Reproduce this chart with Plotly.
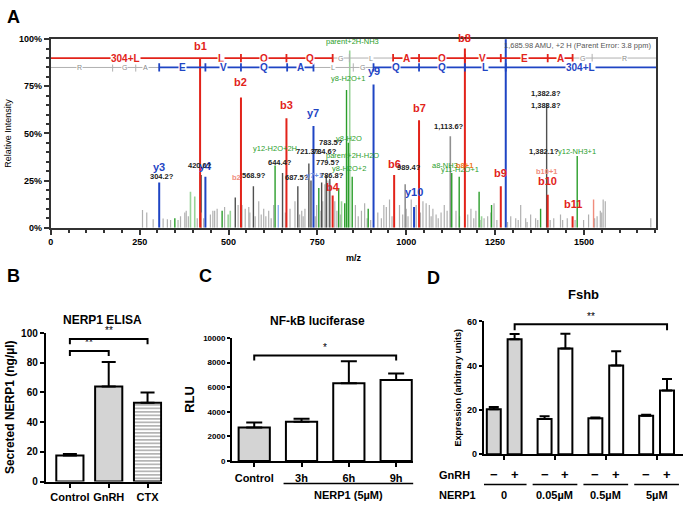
import plotly.graph_objects as go

W, H = 683, 509
def PX(p): return p / W
def PY(p): return 1 - p / H

FONT = "Arial, Liberation Sans, sans-serif"
RED = "#e2231a"; BLUE = "#1f45c4"; GREEN = "#2b9e2b"; LGREEN = "#98d398"
GRAY = "#b0b0b0"; DGRAY = "#505050"; TGRAY = "#8a8a8a"; LRED = "#f08c7c"; ORANGE = "#f07a1a"

# ---------------- Panel A data ----------------
b_mz = [420, 535, 663, 793, 966, 1036, 1165, 1266, 1398, 1468]
b_int = [90, 69, 58, 17, 28, 57, 95, 22, 17.5, 6]
b_lab = ["b1", "b2", "b3", "b4", "b6", "b7", "b8", "b9", "b10", "b11"]
b_lab_y = [92, 73, 61, 17.5, 29.5, 59.5, 96.5, 24.5, 20.5, 8.5]

y_mz = [305, 435, 739, 908, 1022, 1280]
y_int = [24, 27, 54, 76, 11, 104]
y_lab = ["y3", "y4", "y7", "y9", "y10", "y12"]
y_lab_y = [28, 28.5, 56.5, 79, 14.5, 103]

green_mz = [349, 482, 631, 754, 810, 827, 832, 837, 848, 893, 1128, 1149, 1205, 1240, 1378, 1481]
green_int = [5, 9, 33, 21, 21, 13, 73, 45, 27, 10, 29, 27, 19, 12, 10, 38]
lgreen_mz = [393, 405, 499, 505, 818, 841, 1212]
lgreen_int = [19, 16.5, 7, 9, 14, 94, 6]

dark_mz = [423, 519, 570, 652, 695, 726, 732, 762, 775, 785, 1395]
dark_int = [28, 16, 22, 29, 22, 34, 25, 24, 28, 26, 66]
mid_mz = [997, 1124]
mid_int = [23, 48.5]

noise_mz = [258, 270, 288, 316, 328, 337, 358, 365, 377, 381, 387, 412, 430, 449, 456, 461,
            468, 489, 527, 538, 547, 557, 560, 575, 585, 592, 599, 605, 613, 620, 627, 660,
            673, 687, 700, 706, 710, 715, 744, 748, 760, 765, 771, 780, 799, 805, 815, 857,
            865, 874, 883, 890, 900, 920, 930, 937, 944, 953, 960, 981, 990, 1000, 1005,
            1014, 1028, 1040, 1047, 1056, 1065, 1070, 1075, 1084, 1090, 1098, 1107, 1115,
            1140, 1150, 1173, 1182, 1190, 1196, 1210, 1219, 1229, 1238, 1247, 1255, 1285,
            1294, 1308, 1315, 1322, 1336, 1340, 1350, 1364, 1370, 1405, 1415, 1434, 1440,
            1453, 1475, 1499, 1513, 1530, 1537, 1546, 1550, 1554, 1560, 1688]
noise_int = [9.3, 8, 4.5, 4.8, 4.5, 4, 4, 6, 8, 9, 6, 5, 5, 7, 9, 9,
             10, 11, 12, 12, 10, 11, 8, 6, 14, 7, 10, 6, 9, 5, 12, 8,
             10, 14, 7, 9, 6, 10, 6, 12, 9, 14, 23, 25, 14, 9, 7, 12,
             6, 9, 13, 5, 4, 8, 5, 12, 11, 15, 6, 12, 7, 10, 6,
             15, 12, 8, 14, 13, 12, 6, 10, 7, 5, 8, 12, 9,
             9, 6, 7, 10, 5, 9, 4, 5, 6, 8, 13, 4, 3,
             6, 5, 4, 12, 5, 3, 7, 5, 4, 4, 5, 7, 4,
             5, 4, 4, 7, 5, 6, 9, 8, 15, 14, 5]
lred_mz = [1527, 423]
lred_int = [15, 8]
lblue_mz = [640]
lblue_int = [12]

# sequence tracks
red_track = [(0, 793, RED), (793, 963, GRAY), (963, 1468, RED), (1468, 1703, GRAY)]
red_ticks_col = [535, 663, 793, 963, 1036, 1165, 1266, 1398, 1468]
red_ticks_gray = [840, 1523]
red_res = [("304+L", 210, RED), ("L", 478, RED), ("Q", 599, RED), ("Q", 728, RED), ("G", 816, TGRAY),
           ("L", 900, TGRAY), ("A", 1000, RED), ("Q", 1100, RED), ("V", 1215, RED), ("E", 1332, RED),
           ("A", 1433, RED), ("G", 1495, TGRAY), ("R", 1613, TGRAY)]
blue_track = [(0, 305, GRAY), (305, 739, BLUE), (739, 908, GRAY), (908, 1703, BLUE)]
blue_ticks_col = [305, 435, 535, 665, 739, 908, 1036, 1165, 1280]
blue_ticks_gray = [174, 239, 851]
blue_res = [("R", 80, TGRAY), ("G", 207, TGRAY), ("A", 267, TGRAY), ("E", 370, BLUE), ("V", 487, BLUE),
            ("Q", 600, BLUE), ("A", 702, BLUE), ("L", 795, TGRAY), ("G", 876, TGRAY), ("Q", 972, BLUE),
            ("Q", 1100, BLUE), ("L", 1222, BLUE), ("304+L", 1490, BLUE)]

green_labels = [("parent+2H-NH3", 848, 95.5), ("y8-H2O+1", 836, 75.6), ("y8-H2O", 840, 44),
                ("parent+2H-H2O", 850, 35), ("y8-H2O+2", 838, 28), ("y12-H2O+2H", 630, 38.5),
                ("a8-NH3", 1109, 29.5), ("y11-H2O+1", 1152, 27.3), ("y12-NH3+1", 1481, 37)]
black_labels = [("304.2?", 314, 23.5), ("420.0?", 419, 29.5), ("568.9?", 573, 24), ("644.4?", 646, 31),
                ("687.5?", 692, 23), ("721.3?", 725, 36.8), ("784.6?", 772, 36.8), ("783.5?", 787, 41.5),
                ("779.5?", 781, 31), ("786.8?", 790, 24), ("989.4?", 1008, 28.7), ("1,113.6?", 1121, 50),
                ("1,382.8?", 1392, 67.5), ("1,383.8?", 1392, 61.5), ("1,382.1?", 1388, 36.8)]
misc_labels = [("b2", 522, 23, LRED), ("b10+1", 1395, 26.5, LRED), ("b8+1", 1165, 29.5, ORANGE),
               ("y7+1", 742, 24, "#6f8fe0")]

# ---------------- Panel B data ----------------
b_cats = ["Control", "GnRH", "CTX"]
b_vals = [17.5, 64, 53]
b_errs = [1, 16.5, 7]

# ---------------- Panel C data ----------------
c_cats = ["Control", "3h", "6h", "9h"]
c_vals = [2720, 3200, 6320, 6590]
c_errs = [400, 240, 1780, 530]

# ---------------- Panel D data ----------------
d_groups = ["0", "0.05\u00b5M", "0.5\u00b5M", "5\u00b5M"]
d_minus = [20.3, 15.9, 16.2, 17.4]
d_minus_err = [1.0, 1.2, 0.4, 0.4]
d_plus = [51.9, 47.8, 40.1, 28.8]
d_plus_err = [2.4, 6.6, 6.4, 5.2]


def stems(mz, inten):
    xs, ys = [], []
    for m, v in zip(mz, inten):
        xs += [m, m, None]
        ys += [0, v, None]
    return xs, ys


fig = go.Figure()

def add_stems(mz, inten, color, width, clip=True):
    xs, ys = stems(mz, inten)
    fig.add_trace(go.Scatter(x=xs, y=ys, mode="lines", line=dict(color=color, width=width),
                             hoverinfo="skip", showlegend=False, cliponaxis=clip,
                             xaxis="x", yaxis="y"))

add_stems(noise_mz, noise_int, GRAY, 1.2)
add_stems(lgreen_mz, lgreen_int, LGREEN, 1.6)
add_stems(mid_mz, mid_int, "#909090", 1.6)
add_stems(dark_mz, dark_int, DGRAY, 1.4)
add_stems(green_mz, green_int, GREEN, 1.4)
add_stems(lred_mz, lred_int, LRED, 1.4)
add_stems(lblue_mz, lblue_int, "#8fb0f0", 1.4)
add_stems(b_mz, b_int, RED, 2)
add_stems(y_mz, y_int, BLUE, 2, clip=False)

# tracks
def add_track(segs, yv, ticks_col, ticks_gray, col):
    for (a, b, c) in segs:
        fig.add_trace(go.Scatter(x=[a, b], y=[yv, yv], mode="lines",
                                 line=dict(color=c, width=1.8 if c != GRAY else 1),
                                 hoverinfo="skip", showlegend=False, xaxis="x", yaxis="y"))
    for tl, c in ((ticks_col, col), (ticks_gray, GRAY)):
        xs, ys = [], []
        for t in tl:
            xs += [t, t, None]; ys += [yv - 2.2, yv + 2.2, None]
        fig.add_trace(go.Scatter(x=xs, y=ys, mode="lines",
                                 line=dict(color=c, width=1.8 if c != GRAY else 1),
                                 hoverinfo="skip", showlegend=False, xaxis="x", yaxis="y"))

add_track(red_track, 90, red_ticks_col, red_ticks_gray, RED)
add_track(blue_track, 85, blue_ticks_col, blue_ticks_gray, BLUE)

ann = []
def A(**kw):
    kw.setdefault("xanchor", "center")
    kw.setdefault("yanchor", "middle")
    kw.setdefault("showarrow", False)
    ann.append(kw)

def res_ann(lst, yv):
    for (t, x, c) in lst:
        colored = c != TGRAY
        A(text=t, x=x, y=yv, xref="x", yref="y",
          font=dict(family=FONT, size=10 if colored else 7, color=c,
                    weight="bold" if colored else "normal"),
          bgcolor="white", borderpad=0)
res_ann(red_res, 90)
res_ann(blue_res, 85)

for t, x, yv in zip(b_lab, b_mz, b_lab_y):
    A(text=t, x=x, y=yv, xref="x", yref="y", yanchor="bottom",
      font=dict(family=FONT, size=11, color=RED, weight="bold"))
for t, x, yv in zip(y_lab, y_mz, y_lab_y):
    A(text=t, x=x, y=yv, xref="x", yref="y", yanchor="bottom",
      font=dict(family=FONT, size=11, color=BLUE, weight="bold"))
for t, x, yv in green_labels:
    A(text=t, x=x, y=yv, xref="x", yref="y", yanchor="bottom",
      font=dict(family=FONT, size=7.5, color=GREEN))
for t, x, yv in black_labels:
    A(text=t, x=x, y=yv, xref="x", yref="y", yanchor="bottom",
      font=dict(family=FONT, size=7.5, color="#222", weight="bold"))
for t, x, yv, c in misc_labels:
    A(text=t, x=x, y=yv, xref="x", yref="y", yanchor="bottom",
      font=dict(family=FONT, size=7.5, color=c, weight="bold"))
A(text="1,685.98 AMU, +2 H (Parent Error: 3.8 ppm)", x=PX(653), y=PY(40),
  xref="paper", yref="paper", xanchor="right", font=dict(family=FONT, size=7.5, color="#555"))

# ---------------- Panel B ----------------
fig.add_trace(go.Bar(x=list(range(len(b_cats))), y=b_vals, xaxis="x2", yaxis="y2", showlegend=False,
                     marker=dict(color=["white", "#d4d4d4", "white"],
                                 line=dict(color="black", width=2),
                                 pattern=dict(shape=["", "", "-"], fgcolor="#555", bgcolor="white",
                                              size=3.5, solidity=0.4)),
                     error_y=dict(type="data", array=b_errs, arrayminus=[0] * 3, symmetric=False,
                                  color="black", thickness=2, width=7),
                     width=0.7, hoverinfo="skip"))

# ---------------- Panel C ----------------
fig.add_trace(go.Bar(x=list(range(len(c_cats))), y=c_vals, xaxis="x3", yaxis="y3", showlegend=False,
                     marker=dict(color=["#d4d4d4", "white", "white", "white"],
                                 line=dict(color="black", width=2)),
                     error_y=dict(type="data", array=c_errs, arrayminus=[0] * 4, symmetric=False,
                                  color="black", thickness=2, width=8),
                     width=0.66, hoverinfo="skip"))

# ---------------- Panel D ----------------
d_cols = ["#d4d4d4", "white", "white", "white"]
gx = list(range(len(d_groups)))
for vals, errs in ((d_minus, d_minus_err), (d_plus, d_plus_err)):
    fig.add_trace(go.Bar(x=gx, y=vals, xaxis="x4", yaxis="y4", showlegend=False,
                         marker=dict(color=d_cols, line=dict(color="black", width=2)),
                         error_y=dict(type="data", array=errs, arrayminus=[0] * 4, symmetric=False,
                                      color="black", thickness=2, width=5),
                         hoverinfo="skip"))

OFF = 0.206
shapes = []
def bracket(xr, yr, x0, x1, ylo, yhi):
    shapes.append(dict(type="path", xref=xr, yref=yr,
                       path=f"M {x0},{ylo} L {x0},{yhi} L {x1},{yhi} L {x1},{ylo}",
                       line=dict(color="black", width=2)))

bracket("x2", "y2", 0, 1, 84.5, 88)
bracket("x2", "y2", 0, 2, 92.5, 96)
A(text="**", x=0.5, y=88.5, xref="x2", yref="y2", yanchor="bottom",
  font=dict(family=FONT, size=10, color="black"))
A(text="**", x=1, y=96.5, xref="x2", yref="y2", yanchor="bottom",
  font=dict(family=FONT, size=10, color="black"))
bracket("x3", "y3", 0, 3, 8170, 8570)
A(text="*", x=1.5, y=8600, xref="x3", yref="y3", yanchor="bottom",
  font=dict(family=FONT, size=10, color="black"))
bracket("x4", "y4", OFF, 3 + OFF, 56, 58.7)
A(text="**", x=1.7, y=59, xref="x4", yref="y4", yanchor="bottom",
  font=dict(family=FONT, size=10, color="black"))

# C: NERP1 line and label
shapes.append(dict(type="line", xref="x3", yref="paper", x0=0.62, x1=3.38, y0=PY(489), y1=PY(489),
                   line=dict(color="black", width=1.5)))
A(text="NERP1 (5\u00b5M)", x=2, y=PY(501), xref="x3", yref="paper",
  font=dict(family=FONT, size=11, color="black", weight="bold"))

# D: rows below axis
for g in gx:
    A(text="\u2212", x=g - OFF, y=PY(480), xref="x4", yref="paper",
      font=dict(family=FONT, size=13, color="black", weight="bold"))
    A(text="+", x=g + OFF, y=PY(480), xref="x4", yref="paper",
      font=dict(family=FONT, size=13, color="black", weight="bold"))
    shapes.append(dict(type="line", xref="x4", yref="paper", x0=g - 0.44, x1=g + 0.44,
                       y0=PY(490), y1=PY(490), line=dict(color="black", width=1.5)))
    A(text=d_groups[g], x=g, y=PY(501), xref="x4", yref="paper",
      font=dict(family=FONT, size=11, color="black", weight="bold"))
A(text="GnRH", x=PX(436), y=PY(480), xref="paper", yref="paper", xanchor="left",
  font=dict(family=FONT, size=11, color="black", weight="bold"))
A(text="NERP1", x=PX(436), y=PY(501), xref="paper", yref="paper", xanchor="left",
  font=dict(family=FONT, size=11, color="black", weight="bold"))

# titles and panel letters
for t, x, y, s in (("NERP1 ELISA", 100, 322, 12), ("NF-kB luciferase", 316, 323, 12), ("Fshb", 583, 295, 13)):
    A(text=t, x=PX(x), y=PY(y), xref="paper", yref="paper",
      font=dict(family=FONT, size=s, color="black", weight="bold"))
for t, x, y in (("A", 11, 11), ("B", 11, 277), ("C", 203, 277), ("D", 432, 279)):
    A(text=t, x=PX(x), y=PY(y), xref="paper", yref="paper",
      font=dict(family=FONT, size=18, color="black", weight="bold"))

axis_common = dict(showline=True, linecolor="black", linewidth=2, ticks="outside", tickcolor="black",
                   tickwidth=2, showgrid=False, zeroline=False)

fig.update_layout(
    width=W, height=H, margin=dict(l=0, r=0, t=0, b=0),
    paper_bgcolor="white", plot_bgcolor="white",
    barmode="group", bargap=0.18, bargroupgap=0.33,
    font=dict(family=FONT, color="black"),
    xaxis=dict(domain=[PX(48), PX(656)], range=[0, 1703], tickvals=[0, 250, 500, 750, 1000, 1250, 1500],
               showline=True, linecolor="#333", linewidth=2, mirror=True, ticks="outside", ticklen=5,
               tickwidth=1.5, tickcolor="#333", showgrid=False, zeroline=False,
               minor=dict(dtick=50, ticks="outside", ticklen=3, tickcolor="#333"),
               tickfont=dict(family=FONT, size=9, weight="bold"),
               title=dict(text="m/z", font=dict(family=FONT, size=9, weight="bold"), standoff=8)),
    yaxis=dict(domain=[PY(227), PY(34)], range=[0, 100], tickvals=[0, 25, 50, 75, 100],
               ticktext=["0%", "25%", "50%", "75%", "100%"],
               showline=True, linecolor="#333", linewidth=2, mirror=True, ticks="outside", ticklen=5,
               tickwidth=1.5, tickcolor="#333", showgrid=False, zeroline=False,
               minor=dict(dtick=5, ticks="outside", ticklen=3, tickcolor="#333"),
               tickfont=dict(family=FONT, size=9, weight="bold"),
               title=dict(text="Relative Intensity", font=dict(family=FONT, size=9), standoff=6)),
    xaxis2=dict(domain=[PX(43), PX(160)], range=[-0.62, 2.38], tickvals=[0, 1, 2], ticktext=b_cats,
                anchor="y2", ticklen=4, tickfont=dict(family=FONT, size=11, weight="bold"), **axis_common),
    yaxis2=dict(domain=[PY(487), PY(335)], range=[0, 100], dtick=20, anchor="x2", ticklen=4,
                tickfont=dict(family=FONT, size=10, weight="bold"),
                title=dict(text="Secreted NERP1 (ng/\u00b5l)", font=dict(family=FONT, size=12, weight="bold"),
                           standoff=4), **axis_common),
    xaxis3=dict(domain=[PX(230), PX(412)], range=[-0.47, 3.36], tickvals=[0, 1, 2, 3], ticktext=c_cats,
                anchor="y3", ticklen=4, ticklabelstandoff=2,
                tickfont=dict(family=FONT, size=11, weight="bold"), **axis_common),
    yaxis3=dict(domain=[PY(466), PY(340)], range=[0, 10000], dtick=2000, tickformat="d", anchor="x3",
                ticklen=3, tickfont=dict(family=FONT, size=8, weight="bold"),
                title=dict(text="RLU", font=dict(family=FONT, size=13, weight="bold"), standoff=6),
                **axis_common),
    xaxis4=dict(domain=[PX(483), 1.0], range=[-0.4, 3.52], tickvals=gx, showticklabels=False,
                anchor="y4", ticklen=4, **axis_common),
    yaxis4=dict(domain=[PY(459), PY(323)], range=[0, 60], dtick=20, anchor="x4", ticklen=3,
                tickfont=dict(family=FONT, size=9, weight="bold"),
                title=dict(text="Expression (arbitrary units)", font=dict(family=FONT, size=9, weight="bold"),
                           standoff=4), **axis_common),
    annotations=ann, shapes=shapes,
)

fig.write_html("out.html", config={"displayModeBar": False},
               post_script="document.body.style.margin='0';document.body.style.overflow='hidden';")
